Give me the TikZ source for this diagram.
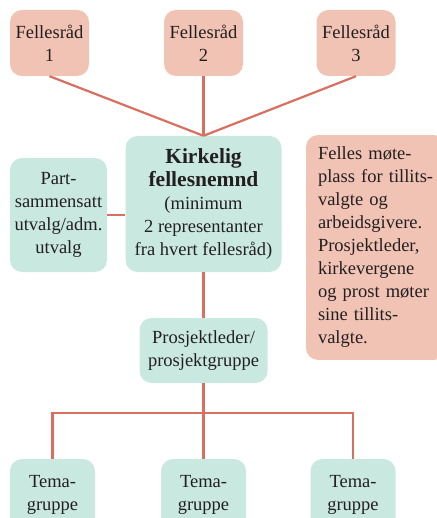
\documentclass[tikz,border=0pt]{standalone}
\usepackage{fontspec}
\setmainfont{Liberation Serif}
\usetikzlibrary{shapes}
\definecolor{raad}{HTML}{F1C3B4}
\definecolor{nemnd}{HTML}{C9E8E0}
\definecolor{strek}{HTML}{D86F5F}
\definecolor{tekst}{HTML}{231F20}
\newcommand{\Tittel}[1]{\textbf{\fontsize{21.5}{23}\selectfont #1}}

\begin{document}
\begin{tikzpicture}[x=1pt,y=1pt,yscale=-1]
				\tikzstyle{boks} = [rounded corners=12pt, inner sep=0pt, align=center, text=tekst, font=\fontsize{18.5}{23}\selectfont]
				\tikzstyle{raad} = [boks, fill=raad, minimum width=79pt, minimum height=66pt]
				\tikzstyle{gruppe} = [boks, fill=nemnd]
				\tikzstyle{tema} = [gruppe, minimum width=85pt, minimum height=72pt]
				\tikzstyle{linje} = [-, line width=2.2pt, draw=strek]
				
				\useasboundingbox (0,0) rectangle (436,518);
				
				\node[raad] 	(RaadEn) at 	(49.5,43) 	{Fellesråd\\1};
				\node[raad] 	(RaadTo) at 	(203.5,43) 	{Fellesråd\\2};
				\node[raad] 	(RaadTre) at 	(356,43) 	{Fellesråd\\3};
				\node[gruppe, minimum width=156pt, minimum height=136pt] (Nemnd) at (203.5,204)
					{\Tittel{Kirkelig}\\\Tittel{fellesnemnd}\\(minimum\\2 representanter\\fra hvert fellesråd)};
				\node[gruppe, minimum width=97pt, minimum height=114pt] (Utvalg) at (58.5,215)
					{Part-\\sammensatt\\utvalg/adm.\\utvalg};
				\node[boks, fill=raad, align=left, text width=116pt, inner sep=12pt, minimum height=223pt] (Moete) at (376,247.5)
					{Felles møte-\\plass for tillits-\\valgte og\\arbeidsgivere.\\Prosjektleder,\\kirkevergene\\og prost møter\\sine tillits-\\valgte.};
				\node[gruppe, minimum width=128pt, minimum height=65pt] (Prosjekt) at (203.5,350.5)
					{Prosjektleder/\\prosjektgruppe};
				\node[tema] 	(TemaEn) at 	(52.5,495) 	{Tema-\\gruppe};
				\node[tema] 	(TemaTo) at 	(203.5,495) 	{Tema-\\gruppe};
				\node[tema] 	(TemaTre) at 	(353,495) 	{Tema-\\gruppe};
				\coordinate 	(Buss) at 	(203.5,413);
				
				\draw[linje] (RaadEn.south) -- (Nemnd.north);
				\draw[linje] (RaadTo.south) -- (Nemnd.north);
				\draw[linje] (RaadTre.south) -- (Nemnd.north);
				\draw[linje] (Utvalg.east) -- (Utvalg.east -| Nemnd.west);
				\draw[linje] (Nemnd.south) -- (Prosjekt.north);
				\draw[linje] (Prosjekt.south) -- (TemaTo.north);
				\draw[linje] (TemaEn.north) |- (Buss) -| (TemaTre.north);
				
\end{tikzpicture}
\end{document}
